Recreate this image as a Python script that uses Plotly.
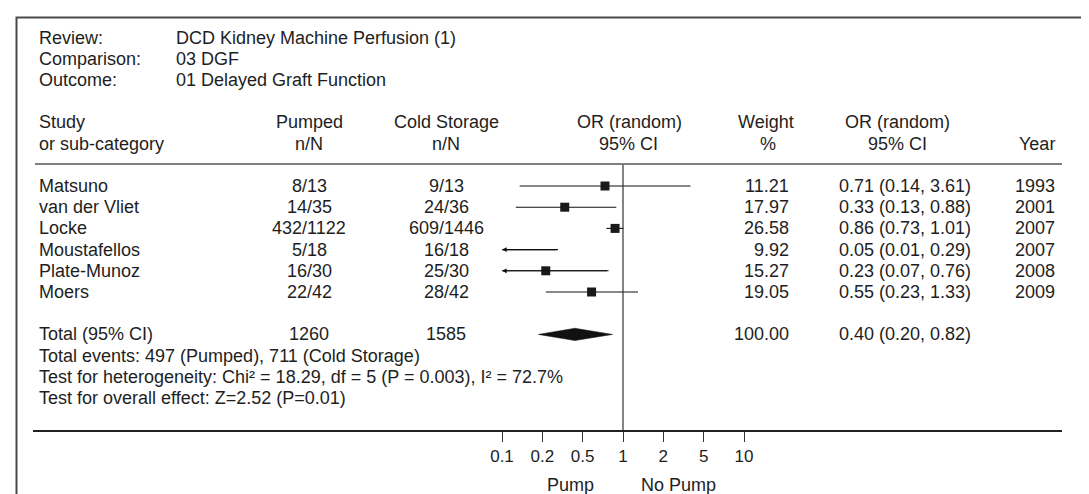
import numpy as np
import plotly.graph_objects as go

# ---------------- data ----------------
studies = ["Matsuno", "van der Vliet", "Locke", "Moustafellos", "Plate-Munoz", "Moers"]
pumped = ["8/13", "14/35", "432/1122", "5/18", "16/30", "22/42"]
cold = ["9/13", "24/36", "609/1446", "16/18", "25/30", "28/42"]
or_val = [0.71, 0.33, 0.86, 0.05, 0.23, 0.55]
ci_lo = [0.14, 0.13, 0.73, 0.01, 0.07, 0.23]
ci_hi = [3.61, 0.88, 1.01, 0.29, 0.76, 1.33]
weights = [11.21, 17.97, 26.58, 9.92, 15.27, 19.05]
years = [1993, 2001, 2007, 2007, 2008, 2009]
total_or, total_lo, total_hi = 0.40, 0.20, 0.82
total_pumped, total_cold, total_weight = 1260, 1585, 100.00
tick_text = ["0.1", "0.2", "0.5", "1", "2", "5", "10"]
axis_min = 0.1

# ---------------- layout helpers ----------------
W, H = 1089, 494
FONT = "Liberation Sans, Arial, sans-serif"
FS = 18
TXT = "#1e1e1e"
ROW0, ROWH = 178.0, 21.2          # pixel y of first study row, row height
PX_ONE, PX_DEC = 615.0, 121.0     # pixel x of OR=1, pixels per decade

# the original figure spaces its tick labels evenly (one third of a decade apart)
tick_vals = [10 ** (-1 + k / 3) for k in range(len(tick_text))]


def px(x):
    return x / W


def py(y):
    return 1 - y / H


fig = go.Figure()
ann = []


def text(x, row, s, anchor="left", size=FS):
    ann.append(dict(x=px(x), y=row, xref="paper", yref="y", text=s, showarrow=False,
                    xanchor=anchor, yanchor="middle",
                    font=dict(family=FONT, size=size, color=TXT)))


# header block
text(29, -7, "Review:")
text(166, -7, "DCD Kidney Machine Perfusion (1)")
text(29, -6, "Comparison:")
text(166, -6, "03 DGF")
text(29, -5, "Outcome:")
text(166, -5, "01 Delayed Graft Function")

# column headers
text(29, -3, "Study")
text(29, -2, "or sub-category")
text(301, -3, "Pumped", "center")
text(301, -2, "n/N", "center")
text(438, -3, "Cold Storage", "center")
text(438, -2, "n/N", "center")
text(621, -3, "OR (random)", "center")
text(620, -2, "95% CI", "center")
text(758, -3, "Weight", "center")
text(760, -2, "%", "center")
text(889, -3, "OR (random)", "center")
text(889, -2, "95% CI", "center")
text(1049, -2, "Year", "right")

# study rows
for i, s in enumerate(studies):
    text(29, i, s)
    text(301, i, pumped[i], "center")
    text(438, i, cold[i], "center")
    text(783, i, f"{weights[i]:.2f}", "right")
    text(829, i, f"{or_val[i]:.2f} ({ci_lo[i]:.2f}, {ci_hi[i]:.2f})")
    text(1049, i, str(years[i]), "right")

# totals
trow = len(studies) + 1
text(29, trow, "Total (95% CI)")
text(301, trow, str(total_pumped), "center")
text(438, trow, str(total_cold), "center")
text(783, trow, f"{total_weight:.2f}", "right")
text(829, trow, f"{total_or:.2f} ({total_lo:.2f}, {total_hi:.2f})")
text(29, trow + 1, "Total events: 497 (Pumped), 711 (Cold Storage)")
text(29, trow + 2, "Test for heterogeneity: Chi² = 18.29, df = 5 (P = 0.003), I² = 72.7%")
text(29, trow + 3, "Test for overall effect: Z=2.52 (P=0.01)")

axis_row = (423 - ROW0) / ROWH

# CI lines and squares
for i in range(len(studies)):
    lo = max(ci_lo[i], axis_min)
    fig.add_trace(go.Scatter(x=[lo, ci_hi[i]], y=[i, i], mode="lines",
                             line=dict(color="#111", width=1.1), hoverinfo="skip"))
    if ci_lo[i] < axis_min:
        ann.append(dict(x=np.log10(axis_min), y=i, xref="x", yref="y",
                        ax=np.log10(ci_hi[i]), ay=i, axref="x", ayref="y",
                        text="", showarrow=True, arrowhead=2, arrowsize=0.85,
                        arrowwidth=1.1, arrowcolor="#111"))
    if or_val[i] >= axis_min:
        fig.add_trace(go.Scatter(x=[or_val[i]], y=[i], mode="markers",
                                 marker=dict(symbol="square", size=9, color="#1a1a1a"),
                                 hoverinfo="skip"))

# pooled diamond
dh = 0.29
fig.add_trace(go.Scatter(x=[total_lo, total_or, total_hi, total_or, total_lo],
                         y=[trow, trow - dh, trow, trow + dh, trow],
                         mode="lines", fill="toself", fillcolor="#111",
                         line=dict(color="#111", width=0.5), hoverinfo="skip"))

# line of no effect
fig.add_trace(go.Scatter(x=[1, 1], y=[-1, axis_row], mode="lines",
                         line=dict(color="#333", width=1.2), hoverinfo="skip"))

# Pump / No Pump
text(562, axis_row + 2.55, "Pump", "center")
text(670, axis_row + 2.55, "No Pump", "center")

shapes = [
    # outer frame (bottom edge outside picture)
    dict(type="rect", xref="paper", yref="paper", x0=px(8.5), x1=px(1085), y0=-0.2, y1=py(9.5),
         line=dict(color="#4a4a4a", width=2), fillcolor="rgba(0,0,0,0)"),
    # header rule
    dict(type="line", xref="paper", yref="paper", x0=px(27), x1=px(1054), y0=py(156), y1=py(156),
         line=dict(color="#555", width=1.5)),
    # bottom axis line
    dict(type="line", xref="paper", yref="paper", x0=px(25), x1=px(1054), y0=py(423), y1=py(423),
         line=dict(color="#222", width=1.8)),
]

xr = [(0 - PX_ONE) / PX_DEC, (W - PX_ONE) / PX_DEC]
yr = [(H - ROW0) / ROWH, (0 - ROW0) / ROWH]

fig.update_layout(
    width=W, height=H, margin=dict(l=0, r=0, t=0, b=0),
    paper_bgcolor="white", plot_bgcolor="white", showlegend=False,
    annotations=ann, shapes=shapes,
    xaxis=dict(type="log", range=xr, domain=[0, 1], anchor="free", position=py(423),
               showgrid=False, zeroline=False, showline=False,
               tickmode="array", tickvals=tick_vals, ticktext=tick_text,
               ticks="outside", ticklen=10, tickwidth=1, tickcolor="#333",
               tickfont=dict(family=FONT, size=17, color=TXT)),
    yaxis=dict(range=yr, domain=[0, 1], visible=False, showgrid=False, zeroline=False),
)

fig.write_html("out.html")
